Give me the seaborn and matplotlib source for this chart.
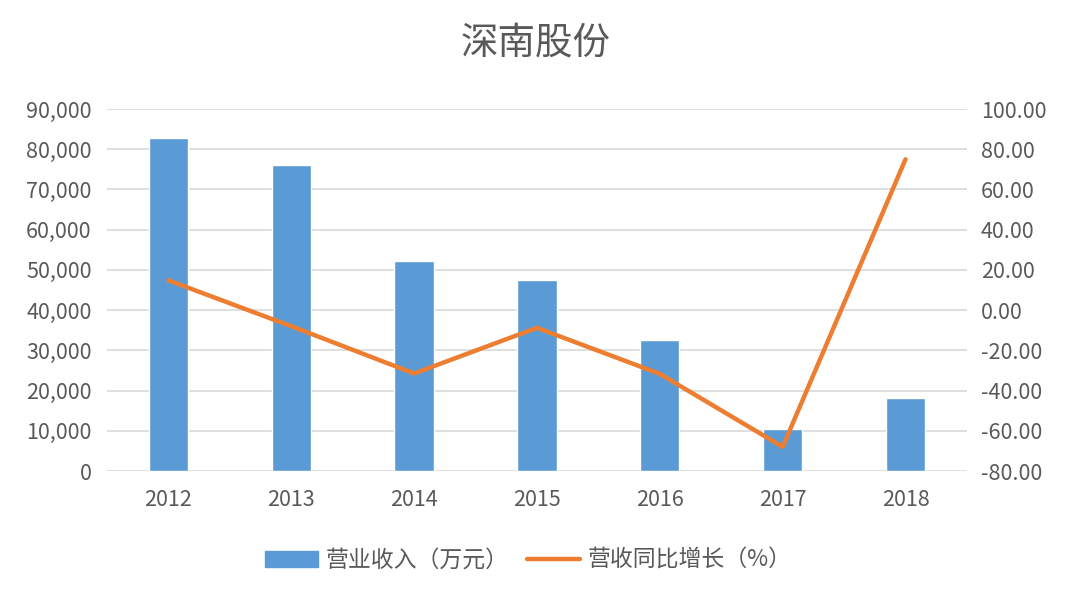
import numpy as np
import pandas as pd
import matplotlib
matplotlib.use("Agg")
import matplotlib.pyplot as plt
import seaborn as sns
from matplotlib.ticker import FuncFormatter
from matplotlib.patches import Patch
from matplotlib.lines import Line2D

sns.set_style("white")
plt.rcParams['font.family'] = ['Noto Sans CJK SC', 'DejaVu Sans']

# data
years = ['2012', '2013', '2014', '2015', '2016', '2017', '2018']
revenue = [82800, 76200, 52200, 47600, 32500, 10400, 18200]   # 万元
growth = [14.8, -8.0, -31.5, -8.8, -31.7, -68.0, 75.0]         # %

bar_color = '#5B9BD5'
line_color = '#ED7D31'
txt_color = '#595959'
grid_color = '#D9D9D9'

df = pd.DataFrame({'year': years, 'revenue': revenue, 'growth': growth})

fig = plt.figure(figsize=(10.72, 6.01), dpi=100)
ax = fig.add_axes([0.0998, 0.2163, 0.8022, 0.6023])

sns.barplot(data=df, x='year', y='revenue', color=bar_color, width=0.32,
            saturation=1, ax=ax, zorder=2)
ax.set_ylim(0, 90000)
ax.set_yticks(np.arange(0, 90001, 10000))
ax.yaxis.set_major_formatter(FuncFormatter(lambda v, p: f'{int(v):,}'))
ax.set_xlim(-0.5, 6.5)
ax.grid(axis='y', color=grid_color, lw=1.2, zorder=0)
ax.set_axisbelow(True)
for s in ax.spines.values():
    s.set_visible(False)
ax.set_xlabel('')
ax.set_ylabel('')
ax.tick_params(axis='y', length=0, pad=11, labelsize=15.5, labelcolor=txt_color)
ax.tick_params(axis='x', length=0, pad=13, labelsize=15.5, labelcolor=txt_color)

ax2 = ax.twinx()
sns.lineplot(x=np.arange(len(years)), y=df['growth'], color=line_color,
             lw=3.2, ax=ax2, zorder=3)
ax2.set_ylim(-80, 100)
ax2.set_yticks(np.arange(-80, 101, 20))
ax2.yaxis.set_major_formatter(FuncFormatter(lambda v, p: f'{v:.2f}'))
ax2.set_xlim(-0.5, 6.5)
for s in ax2.spines.values():
    s.set_visible(False)
ax2.set_ylabel('')
ax2.tick_params(axis='y', length=0, pad=10, labelsize=15.5, labelcolor=txt_color)

fig.text(0.5, 0.928, '深南股份', ha='center', va='center', fontsize=27,
         color=txt_color)

handles = [Patch(color=bar_color),
           Line2D([0], [0], color=line_color, lw=3.2)]
fig.legend(handles, ['营业收入（万元）', '营收同比增长（%）'], loc='center',
           bbox_to_anchor=(0.493, 0.068), ncol=2, frameon=False, fontsize=16.5,
           labelcolor=txt_color, handlelength=2.3, columnspacing=0.8,
           handletextpad=0.35)

fig.savefig('out.png', dpi=100)
